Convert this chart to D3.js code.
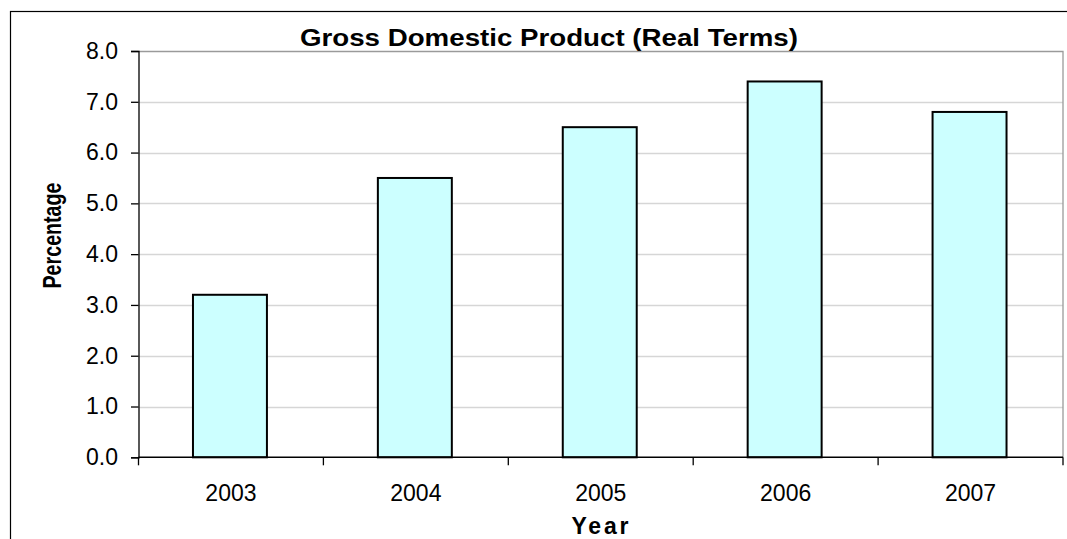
<!DOCTYPE html>
<html>
<head>
<meta charset="utf-8">
<script src="https://cdn.jsdelivr.net/npm/d3@7"></script>
<style>
  html, body { margin: 0; padding: 0; background: #fff; }
  svg { display: block; font-family: "Liberation Sans", Arial, sans-serif; }
</style>
</head>
<body>
<svg id="chart" width="1067" height="539"></svg>
<script>
const categories = ["2003", "2004", "2005", "2006", "2007"];
const values = [3.2, 5.5, 6.5, 7.4, 6.8];
const yTicks = [0, 1, 2, 3, 4, 5, 6, 7, 8];
const titleText = "Gross Domestic Product (Real Terms)";
const xTitle = "Year";
const yTitle = "Percentage";

const svg = d3.select("#chart");
const W = 1067, H = 539;
const plot = { left: 138.5, right: 1063, top: 51, bottom: 457.3 };

svg.append("rect").attr("x", 0).attr("y", 0).attr("width", W).attr("height", H).attr("fill", "#fff");
// outer chart border (extends beyond the visible window on right/bottom)
svg.append("rect").attr("x", 10.5).attr("y", 11.5).attr("width", 1200).attr("height", 700)
  .attr("fill", "none").attr("stroke", "#000").attr("stroke-width", 1.2);

const x = d3.scaleBand().domain(categories).range([plot.left, plot.right])
  .paddingInner(0.6).paddingOuter(0.3);
const y = d3.scaleLinear().domain([0, 8]).range([plot.bottom, plot.top]);

// gridlines
svg.append("g").selectAll("line").data(yTicks.filter(d => d > 0 && d < 8)).join("line")
  .attr("x1", plot.left).attr("x2", plot.right)
  .attr("y1", d => Math.round(y(d)) + 0.5).attr("y2", d => Math.round(y(d)) + 0.5)
  .attr("stroke", "#d6d6d6").attr("stroke-width", 1.3);

// plot area border top & right
svg.append("path")
  .attr("d", `M${plot.left},${Math.round(y(8)) + 0.5}H${plot.right}V${plot.bottom}`)
  .attr("fill", "none").attr("stroke", "#9a9a9a").attr("stroke-width", 1.3);

// bars
svg.append("g").selectAll("rect").data(values).join("rect")
  .attr("x", (d, i) => x(categories[i]) - 1)
  .attr("width", x.bandwidth())
  .attr("y", d => y(d))
  .attr("height", d => y(0) - y(d))
  .attr("fill", "#ccffff").attr("stroke", "#000").attr("stroke-width", 2);

// y axis
const yAxis = d3.axisLeft(y).tickValues(yTicks).tickSize(7.5).tickPadding(13)
  .tickFormat(d3.format(".1f"));
const yg = svg.append("g").attr("transform", `translate(${plot.left},0)`).call(yAxis);
yg.select(".domain").attr("stroke", "#000").attr("stroke-width", 1.3);
yg.selectAll(".tick line").attr("stroke", "#000").attr("stroke-width", 1.3);
yg.selectAll(".tick text").attr("font-size", 23).attr("fill", "#000")
  .attr("font-family", "'Liberation Sans', Arial, sans-serif");

// x axis
const xAxis = d3.axisBottom(x).tickSize(0).tickPadding(27);
const xg = svg.append("g").attr("transform", `translate(0,${plot.bottom})`).call(xAxis);
xg.select(".domain").remove();
xg.selectAll(".tick text").attr("font-size", 23).attr("fill", "#000")
  .attr("font-family", "'Liberation Sans', Arial, sans-serif");
svg.append("line").attr("x1", plot.left).attr("x2", plot.right)
  .attr("y1", plot.bottom).attr("y2", plot.bottom).attr("stroke", "#000").attr("stroke-width", 1.5);
const gap = (x.step() - x.bandwidth()) / 2;
const bounds = categories.map(c => x(c) - gap).concat([x(categories[categories.length - 1]) + x.bandwidth() + gap]);
svg.append("g").selectAll("line").data(bounds).join("line")
  .attr("x1", d => d).attr("x2", d => d)
  .attr("y1", plot.bottom).attr("y2", plot.bottom + 8)
  .attr("stroke", "#000").attr("stroke-width", 1.3);

// title
svg.append("text").attr("x", 300).attr("y", 45.5)
  .attr("font-size", 23.5).attr("font-weight", "bold").attr("fill", "#000")
  .attr("textLength", 498).attr("lengthAdjust", "spacingAndGlyphs")
  .text(titleText);

// x axis title
svg.append("text").attr("x", 600).attr("y", 533.5).attr("text-anchor", "middle")
  .attr("font-size", 23).attr("font-weight", "bold").attr("fill", "#000")
  .attr("textLength", 57).attr("lengthAdjust", "spacing")
  .text(xTitle);

// y axis title
svg.append("text").attr("transform", "translate(61,235.5) rotate(-90)")
  .attr("text-anchor", "middle")
  .attr("font-size", 25).attr("font-weight", "bold").attr("fill", "#000")
  .attr("textLength", 106).attr("lengthAdjust", "spacingAndGlyphs")
  .text(yTitle);
</script>
</body>
</html>
